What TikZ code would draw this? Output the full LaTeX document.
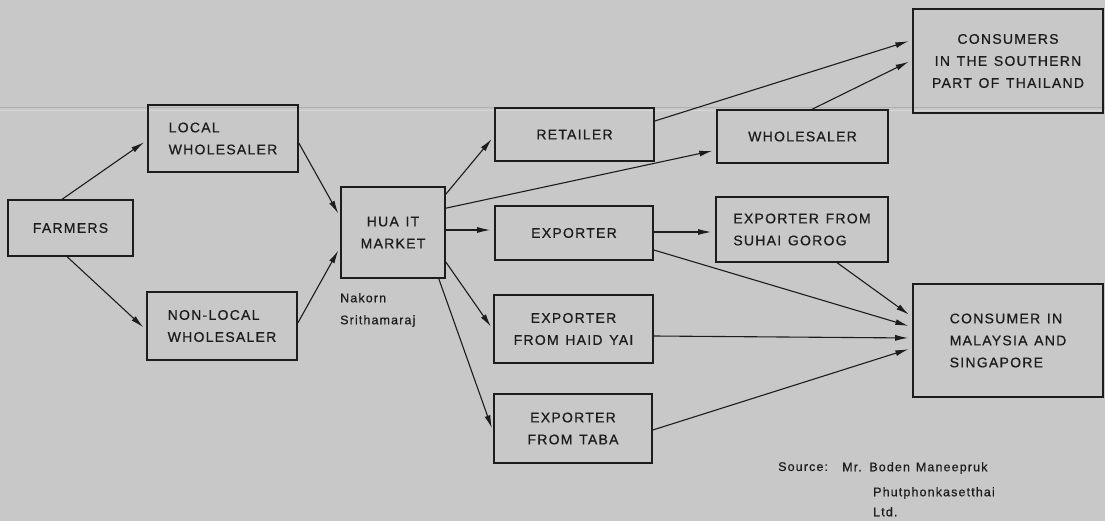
\documentclass[tikz,border=0pt]{standalone}
\usepackage{fontspec}
\setmainfont{Liberation Sans}[LetterSpace=9, WordSpace=1.3, FakeBold=0.6]
\usetikzlibrary{arrows.meta}
\definecolor{paper}{RGB}{200,200,200}
\definecolor{ink}{RGB}{28,28,28}
\definecolor{crease}{RGB}{176,176,176}
\definecolor{creaselight}{RGB}{214,214,214}

\begin{document}
\begin{tikzpicture}[x=1pt,y=-1pt,
  box/.style={draw=ink, line width=1.6pt, rectangle, inner sep=0pt,
    align=center, text=ink, font=\fontsize{14}{22}\selectfont},
  lbox/.style={box, align=left},
  flow/.style={draw=ink, line width=1.1pt,
    -{Latex[length=13pt,width=6pt]}, shorten >=4pt},
  note/.style={text=ink, font=\fontsize{12.5}{22}\selectfont,
    inner sep=0pt, align=left}]

% paper
\fill[paper] (0,0) rectangle (1105,521);
\useasboundingbox (0,0) rectangle (1105,521);
% fold line across the sheet
\draw[crease, line width=1pt] (0,108) -- (1105,108);
\draw[creaselight, line width=1pt] (0,111) -- (1105,111);

% nodes
\node[box, minimum width=125pt, minimum height=56pt] (farmers) at (70.5,228) {FARMERS};
\node[lbox, minimum width=150pt, minimum height=67pt] (locw) at (223,138.5) {LOCAL\\WHOLESALER};
\node[lbox, minimum width=150pt, minimum height=68pt] (nonloc) at (222,326) {NON-LOCAL\\WHOLESALER};
\node[box, minimum width=104pt, minimum height=91pt] (hua) at (393,232.5) {HUA IT\\MARKET};
\node[note, anchor=north west] (nakorn) at (340,293) {Nakorn\\Srithamaraj};

\node[box, minimum width=159pt, minimum height=53pt] (retailer) at (574.5,134.5) {RETAILER};
\node[box, minimum width=158pt, minimum height=54pt] (exporter) at (574,233) {EXPORTER};
\node[box, minimum width=159pt, minimum height=68pt] (haidyai) at (573.5,329) {EXPORTER\\FROM HAID YAI};
\node[box, minimum width=158pt, minimum height=69pt] (taba) at (573,428.5) {EXPORTER\\FROM TABA};

\node[box, minimum width=171pt, minimum height=53pt] (wholesaler) at (802.5,136.5) {WHOLESALER};
\node[lbox, minimum width=172pt, minimum height=65pt] (suhai) at (802,229.5) {EXPORTER FROM\\SUHAI GOROG};

\node[box, minimum width=190pt, minimum height=104pt] (southern) at (1008,61) {CONSUMERS\\IN THE SOUTHERN\\PART OF THAILAND};
\node[lbox, minimum width=190pt, minimum height=113pt] (malaysia) at (1008,340.5) {CONSUMER IN\\MALAYSIA AND\\SINGAPORE};

% source note
\node[note, anchor=north west] (srclabel) at (778,462) {Source:};
\node[note, anchor=north west] (srcname) at (842,462) {Mr. Boden Maneepruk};
\node[note, anchor=north west, font=\fontsize{12.5}{20}\selectfont] (srcfirm) at (873,487) {Phutphonkasetthai\\Ltd.};

% flows
\draw[flow] ([xshift=55pt]farmers.north west) -- ([yshift=-1.5pt]locw.west);
\draw[flow] ([xshift=60pt]farmers.south west) -- ([yshift=-4pt]nonloc.west);
\draw[flow] ([yshift=-4.5pt]locw.east) -- ([yshift=15.5pt]hua.west);
\draw[flow] ([yshift=3pt]nonloc.east) -- ([yshift=-14.5pt]hua.west);

\draw[flow] ([yshift=-8pt]hua.north east) -- ([yshift=-1.5pt]retailer.west);
\draw[flow] ([yshift=-22pt]hua.north east) -- ([yshift=-13.5pt]wholesaler.west);
\draw[flow] ([yshift=2.5pt]hua.east) -- ([yshift=3pt]exporter.west);
\draw[flow] ([yshift=-29.5pt]hua.east) -- ([yshift=-1pt]haidyai.west);
\draw[flow] ([xshift=-7pt]hua.south east) -- ([yshift=-3.5pt]taba.west);

\draw[flow] ([yshift=13.5pt]retailer.east) -- ([yshift=21pt]southern.west);
\draw[flow] ([xshift=96pt]wholesaler.north west) -- ([yshift=1pt]southern.west);

\draw[flow] ([yshift=1pt]exporter.east) -- ([yshift=-2.5pt]suhai.west);
\draw[flow] ([yshift=-17pt]exporter.east) -- ([yshift=13.5pt]malaysia.west);
\draw[flow] ([xshift=122pt]suhai.south west) -- ([yshift=23.5pt]malaysia.west);
\draw[flow] ([yshift=-7pt]haidyai.east) -- ([yshift=2.5pt]malaysia.west);
\draw[flow] ([yshift=-1.5pt]taba.east) -- ([yshift=-7.5pt]malaysia.west);
\end{tikzpicture}
\end{document}
